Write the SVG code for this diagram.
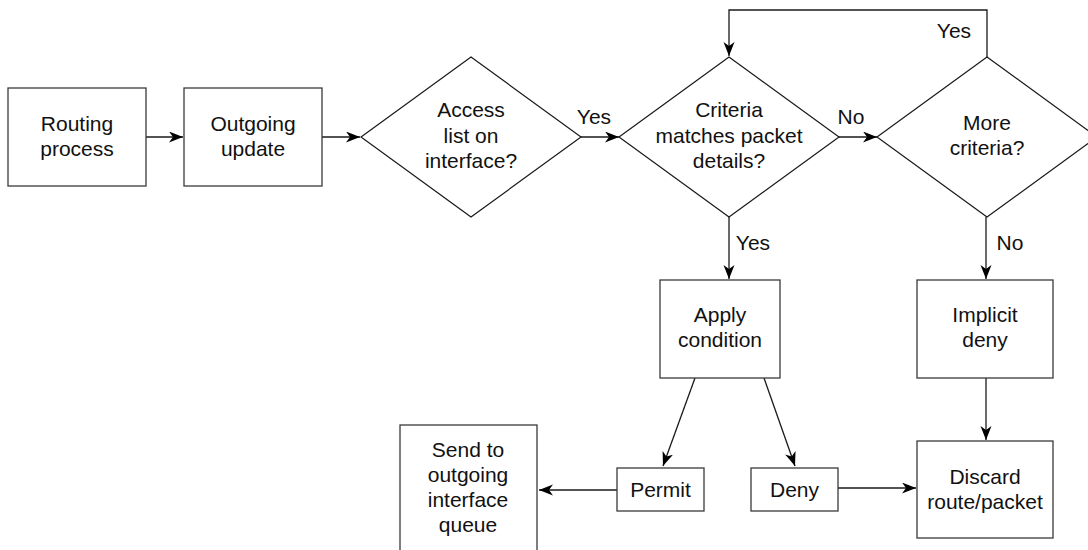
<svg xmlns="http://www.w3.org/2000/svg" width="1088" height="550" viewBox="0 0 1088 550">
<style>
.box{fill:#fff;stroke:#3a3a3a;stroke-width:1.3}
.dia{fill:#fff;stroke:#1a1a1a;stroke-width:1.2}
.ln{fill:none;stroke:#1a1a1a;stroke-width:1.3}
text{font-family:"Liberation Sans",Arial,Helvetica,sans-serif;font-size:21px;fill:#111;text-anchor:middle}
</style>
<defs>
<marker id="ah" markerUnits="userSpaceOnUse" markerWidth="15" markerHeight="12" refX="14" refY="5.5" orient="auto">
<path d="M0,0 L14,5.5 L0,11 L4,5.5 z" fill="#000"/>
</marker>
</defs>
<rect width="1088" height="550" fill="#fff"/>
<g id="connectors">
<line class="ln" x1="146" y1="137" x2="183" y2="137" marker-end="url(#ah)"/>
<line class="ln" x1="322" y1="137" x2="360" y2="137" marker-end="url(#ah)"/>
<line class="ln" x1="581" y1="137" x2="619" y2="137" marker-end="url(#ah)"/>
<line class="ln" x1="839" y1="137" x2="877" y2="137" marker-end="url(#ah)"/>
<polyline class="ln" points="987,57 987,10 729,10 729,56" marker-end="url(#ah)"/>
<line class="ln" x1="729" y1="217" x2="729" y2="279" marker-end="url(#ah)"/>
<line class="ln" x1="986" y1="217" x2="986" y2="279" marker-end="url(#ah)"/>
<line class="ln" x1="986" y1="378" x2="986" y2="440" marker-end="url(#ah)"/>
<line class="ln" x1="695" y1="378" x2="663" y2="466" marker-end="url(#ah)"/>
<line class="ln" x1="764" y1="378" x2="795" y2="466" marker-end="url(#ah)"/>
<line class="ln" x1="617" y1="490" x2="539" y2="490" marker-end="url(#ah)"/>
<line class="ln" x1="838" y1="488" x2="916" y2="488" marker-end="url(#ah)"/>
<text x="594" y="124">Yes</text>
<text x="851" y="124">No</text>
<text x="954" y="38">Yes</text>
<text x="753" y="250">Yes</text>
<text x="1010" y="250">No</text>
</g>
<g id="routing">
<rect class="box" x="8" y="88" width="138" height="98"/>
<text x="77" y="131">Routing</text>
<text x="77" y="156">process</text>
</g>
<g id="outgoing">
<rect class="box" x="184" y="88" width="138" height="98"/>
<text x="253" y="131">Outgoing</text>
<text x="253" y="156">update</text>
</g>
<g id="access">
<polygon class="dia" points="471,57 581,137 471,217 361,137"/>
<text x="471" y="117">Access</text>
<text x="471" y="143">list on</text>
<text x="471" y="168">interface?</text>
</g>
<g id="criteria">
<polygon class="dia" points="729,57 839,137 729,217 619,137"/>
<text x="729" y="117">Criteria</text>
<text x="729" y="143">matches packet</text>
<text x="729" y="168">details?</text>
</g>
<g id="more">
<polygon class="dia" points="987,57 1097,137 987,217 877,137"/>
<text x="987" y="130">More</text>
<text x="987" y="155">criteria?</text>
</g>
<g id="apply">
<rect class="box" x="660" y="280" width="120" height="98"/>
<text x="720" y="322">Apply</text>
<text x="720" y="347">condition</text>
</g>
<g id="implicit">
<rect class="box" x="917" y="280" width="136" height="98"/>
<text x="985" y="322">Implicit</text>
<text x="985" y="347">deny</text>
</g>
<g id="discard">
<rect class="box" x="917" y="441" width="136" height="97"/>
<text x="985" y="484">Discard</text>
<text x="985" y="509">route/packet</text>
</g>
<g id="permit">
<rect class="box" x="617" y="468" width="87" height="43"/>
<text x="660.5" y="497">Permit</text>
</g>
<g id="deny">
<rect class="box" x="751" y="468" width="87" height="43"/>
<text x="794.5" y="497">Deny</text>
</g>
<g id="send">
<rect class="box" x="400" y="425" width="137" height="140"/>
<text x="468" y="457">Send to</text>
<text x="468" y="482">outgoing</text>
<text x="468" y="507">interface</text>
<text x="468" y="532">queue</text>
</g>
</svg>
